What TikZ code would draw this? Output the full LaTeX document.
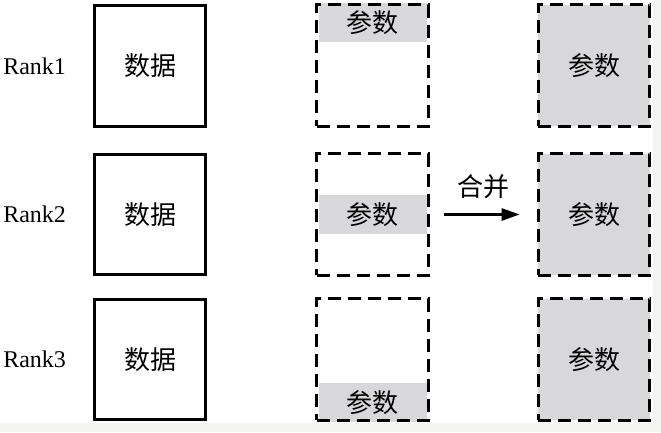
\documentclass[tikz,border=0pt]{standalone}
\usepackage{fontspec}
\setmainfont{Liberation Serif}
\newfontfamily\cjk{Noto Sans CJK SC}
\usepackage{xcolor}
\usetikzlibrary{arrows.meta,positioning,backgrounds}

\definecolor{pargray}{RGB}{216,216,218}
\definecolor{pagegray}{RGB}{244,244,242}

\begin{document}
\begin{tikzpicture}[x=1pt,y=-1pt,
        every node/.style={font=\fontsize{24}{28}\selectfont},
        zh/.style={font=\cjk\fontsize{26}{30}\selectfont},
        databox/.style={draw,line width=3.2pt,minimum width=110.5pt,minimum height=120.5pt,inner sep=0pt,zh},
        parbox/.style={draw,line width=3.2pt,dash pattern=on 13pt off 7pt,minimum width=111.5pt,minimum height=121.5pt,inner sep=0pt,zh},
        band/.style={fill=pargray,minimum width=108pt,minimum height=39pt,inner sep=0pt,zh},
        ranklabel/.style={inner sep=0pt}]
        \useasboundingbox (0,0) rectangle (661,432);
        \begin{scope}[on background layer]
            \fill[pagegray] (0,0) rectangle (661,432);
            \fill[white] (0,0) rectangle (653,423);
        \end{scope}
        % data
        \node[databox] (d1) at (150,66) {数据};
        \node[databox] (d2) at (150,214.5) {数据};
        \node[databox] (d3) at (150,359.5) {数据};
        \foreach \r in {1,2,3}
            \node[ranklabel,left=27pt of d\r] (rank\r) {Rank\r};
        % split parameters
        \node[parbox] (p1) at (372.5,65.5) {};
        \node[parbox] (p2) at (372.5,214.5) {};
        \node[parbox] (p3) at (372.5,359.5) {};
        \begin{scope}[on background layer]
            \node[band,below=0pt of p1.north] (b1) {参数};
            \node[band] (b2) at (p2) {参数};
            \node[band,above=0pt of p3.south] (b3) {参数};
        \end{scope}
        % merged parameters
        \node[parbox,fill=pargray] (g1) at (594,65.5) {参数};
        \node[parbox,fill=pargray] (g2) at (594,214.5) {参数};
        \node[parbox,fill=pargray] (g3) at (594,359.5) {参数};
        \draw[line width=2.6pt,-{Triangle[length=18pt,width=12pt]},shorten <=14pt,shorten >=17pt]
            (p2) -- (g2) node[midway,above=14pt,inner sep=0pt,zh] (merge) {合并};
    \end{tikzpicture}
\end{document}
